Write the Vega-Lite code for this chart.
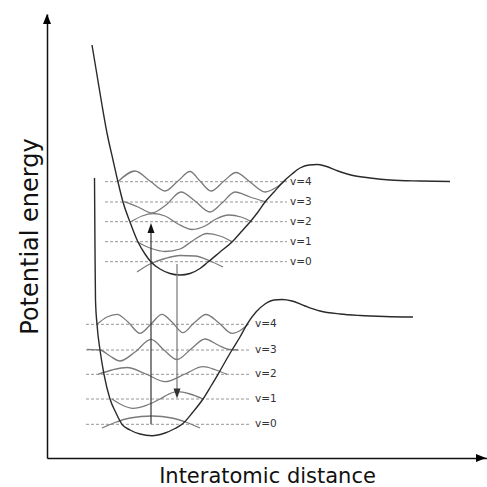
{
  "$schema": "https://vega.github.io/schema/vega-lite/v6.json",
  "width": 440,
  "height": 444,
  "autosize": "none",
  "padding": {"left": 47, "top": 14, "right": 0, "bottom": 29},
  "background": "white",
  "config": {
    "view": {"stroke": null},
    "axis": {
      "domainColor": "#111111",
      "domainWidth": 1.5,
      "ticks": false,
      "labels": false,
      "grid": false,
      "titleFont": "DejaVu Sans",
      "titleFontWeight": "normal",
      "titleColor": "#111111"
    }
  },
  "datasets": {
    "curves": [
      {"c": "upper", "x": 92, "E": 413}, {"c": "upper", "x": 97, "E": 383}, {"c": "upper", "x": 102, "E": 353},
      {"c": "upper", "x": 107, "E": 325}, {"c": "upper", "x": 113, "E": 298}, {"c": "upper", "x": 118, "E": 276},
      {"c": "upper", "x": 123, "E": 256}, {"c": "upper", "x": 130, "E": 236}, {"c": "upper", "x": 138, "E": 216},
      {"c": "upper", "x": 145, "E": 204}, {"c": "upper", "x": 151, "E": 196}, {"c": "upper", "x": 160, "E": 189},
      {"c": "upper", "x": 170, "E": 184.5}, {"c": "upper", "x": 180, "E": 183}, {"c": "upper", "x": 190, "E": 184.5},
      {"c": "upper", "x": 200, "E": 189.5}, {"c": "upper", "x": 208, "E": 196}, {"c": "upper", "x": 220, "E": 206},
      {"c": "upper", "x": 232, "E": 216}, {"c": "upper", "x": 241, "E": 226}, {"c": "upper", "x": 250, "E": 236},
      {"c": "upper", "x": 258, "E": 246}, {"c": "upper", "x": 265, "E": 256}, {"c": "upper", "x": 274, "E": 266},
      {"c": "upper", "x": 283, "E": 276}, {"c": "upper", "x": 292, "E": 284}, {"c": "upper", "x": 300, "E": 290},
      {"c": "upper", "x": 309, "E": 293}, {"c": "upper", "x": 317, "E": 293.5}, {"c": "upper", "x": 325, "E": 292},
      {"c": "upper", "x": 338, "E": 287}, {"c": "upper", "x": 353, "E": 282.5}, {"c": "upper", "x": 370, "E": 280},
      {"c": "upper", "x": 390, "E": 278}, {"c": "upper", "x": 420, "E": 277}, {"c": "upper", "x": 450, "E": 276.5},
      {"c": "lower", "x": 94.5, "E": 280}, {"c": "lower", "x": 95, "E": 208}, {"c": "lower", "x": 95.5, "E": 158},
      {"c": "lower", "x": 97, "E": 133.7}, {"c": "lower", "x": 100, "E": 108}, {"c": "lower", "x": 104, "E": 83.7},
      {"c": "lower", "x": 110, "E": 59}, {"c": "lower", "x": 116, "E": 45}, {"c": "lower", "x": 122, "E": 33.7},
      {"c": "lower", "x": 130, "E": 28}, {"c": "lower", "x": 140, "E": 24}, {"c": "lower", "x": 152, "E": 22.3},
      {"c": "lower", "x": 165, "E": 25}, {"c": "lower", "x": 175, "E": 29.5}, {"c": "lower", "x": 182, "E": 33.7},
      {"c": "lower", "x": 193, "E": 46}, {"c": "lower", "x": 203, "E": 59}, {"c": "lower", "x": 211, "E": 72},
      {"c": "lower", "x": 218, "E": 83.7}, {"c": "lower", "x": 225, "E": 96}, {"c": "lower", "x": 232, "E": 108},
      {"c": "lower", "x": 240, "E": 121}, {"c": "lower", "x": 247, "E": 133.7}, {"c": "lower", "x": 256, "E": 146},
      {"c": "lower", "x": 265, "E": 154}, {"c": "lower", "x": 274, "E": 158}, {"c": "lower", "x": 282, "E": 158.5},
      {"c": "lower", "x": 292, "E": 157}, {"c": "lower", "x": 305, "E": 152}, {"c": "lower", "x": 320, "E": 147},
      {"c": "lower", "x": 340, "E": 144}, {"c": "lower", "x": 360, "E": 142.5}, {"c": "lower", "x": 385, "E": 141.5},
      {"c": "lower", "x": 413, "E": 141}
    ],
    "waves": [
      {"w": "u4", "x": 118, "E": 276.3}, {"w": "u4", "x": 135, "E": 287}, {"w": "u4", "x": 150, "E": 277},
      {"w": "u4", "x": 165, "E": 267}, {"w": "u4", "x": 178, "E": 277}, {"w": "u4", "x": 190, "E": 286.5},
      {"w": "u4", "x": 200, "E": 277}, {"w": "u4", "x": 211, "E": 267}, {"w": "u4", "x": 224, "E": 277},
      {"w": "u4", "x": 236, "E": 285.5}, {"w": "u4", "x": 250, "E": 276}, {"w": "u4", "x": 265, "E": 266},
      {"w": "u4", "x": 277, "E": 271}, {"w": "u4", "x": 286, "E": 278},
      {"w": "u3", "x": 124, "E": 256.3}, {"w": "u3", "x": 138, "E": 251}, {"w": "u3", "x": 152, "E": 245},
      {"w": "u3", "x": 166, "E": 253}, {"w": "u3", "x": 181, "E": 266}, {"w": "u3", "x": 195, "E": 257},
      {"w": "u3", "x": 210, "E": 246}, {"w": "u3", "x": 222, "E": 255}, {"w": "u3", "x": 235, "E": 266},
      {"w": "u3", "x": 250, "E": 261}, {"w": "u3", "x": 266, "E": 256},
      {"w": "u2", "x": 131, "E": 236.3}, {"w": "u2", "x": 142, "E": 242}, {"w": "u2", "x": 153, "E": 244.5},
      {"w": "u2", "x": 165, "E": 242}, {"w": "u2", "x": 178, "E": 234}, {"w": "u2", "x": 192, "E": 228.5},
      {"w": "u2", "x": 205, "E": 232}, {"w": "u2", "x": 216, "E": 239}, {"w": "u2", "x": 229, "E": 243},
      {"w": "u2", "x": 241, "E": 241}, {"w": "u2", "x": 252, "E": 236},
      {"w": "u1", "x": 137, "E": 216.3}, {"w": "u1", "x": 150, "E": 210}, {"w": "u1", "x": 165, "E": 206.5},
      {"w": "u1", "x": 180, "E": 209}, {"w": "u1", "x": 193, "E": 217.5}, {"w": "u1", "x": 207, "E": 224.5},
      {"w": "u1", "x": 220, "E": 222}, {"w": "u1", "x": 232, "E": 216.3},
      {"w": "u0", "x": 137, "E": 186}, {"w": "u0", "x": 150, "E": 194}, {"w": "u0", "x": 165, "E": 199.5},
      {"w": "u0", "x": 180, "E": 202.5}, {"w": "u0", "x": 195, "E": 202}, {"w": "u0", "x": 210, "E": 197},
      {"w": "u0", "x": 223, "E": 191},
      {"w": "l4", "x": 97, "E": 133.7}, {"w": "l4", "x": 107, "E": 141}, {"w": "l4", "x": 117, "E": 143.7},
      {"w": "l4", "x": 128, "E": 136}, {"w": "l4", "x": 140, "E": 124.7}, {"w": "l4", "x": 151, "E": 134},
      {"w": "l4", "x": 162, "E": 143.7}, {"w": "l4", "x": 172, "E": 136}, {"w": "l4", "x": 183, "E": 125.3},
      {"w": "l4", "x": 194, "E": 135}, {"w": "l4", "x": 206, "E": 143.5}, {"w": "l4", "x": 219, "E": 135},
      {"w": "l4", "x": 232, "E": 124.7}, {"w": "l4", "x": 241, "E": 128}, {"w": "l4", "x": 248, "E": 133.7},
      {"w": "l3", "x": 87, "E": 108.7}, {"w": "l3", "x": 100, "E": 108}, {"w": "l3", "x": 110, "E": 102},
      {"w": "l3", "x": 120, "E": 97}, {"w": "l3", "x": 135, "E": 106}, {"w": "l3", "x": 151, "E": 118.7},
      {"w": "l3", "x": 164, "E": 108}, {"w": "l3", "x": 177, "E": 98.5}, {"w": "l3", "x": 191, "E": 109},
      {"w": "l3", "x": 205, "E": 119}, {"w": "l3", "x": 218, "E": 113}, {"w": "l3", "x": 229, "E": 108.5},
      {"w": "l3", "x": 238, "E": 108},
      {"w": "l2", "x": 98, "E": 83.7}, {"w": "l2", "x": 112, "E": 88}, {"w": "l2", "x": 127, "E": 90.5},
      {"w": "l2", "x": 146, "E": 84}, {"w": "l2", "x": 165, "E": 76.3}, {"w": "l2", "x": 185, "E": 84},
      {"w": "l2", "x": 203, "E": 91.3}, {"w": "l2", "x": 216, "E": 88}, {"w": "l2", "x": 227, "E": 83.7},
      {"w": "l1", "x": 112, "E": 59}, {"w": "l1", "x": 122, "E": 53}, {"w": "l1", "x": 133, "E": 49.7},
      {"w": "l1", "x": 147, "E": 53}, {"w": "l1", "x": 160, "E": 59}, {"w": "l1", "x": 168, "E": 63.5},
      {"w": "l1", "x": 177, "E": 66.3}, {"w": "l1", "x": 190, "E": 64}, {"w": "l1", "x": 203, "E": 59},
      {"w": "l0", "x": 102, "E": 30}, {"w": "l0", "x": 115, "E": 35.5}, {"w": "l0", "x": 130, "E": 40},
      {"w": "l0", "x": 152, "E": 42}, {"w": "l0", "x": 172, "E": 40}, {"w": "l0", "x": 187, "E": 35.5},
      {"w": "l0", "x": 200, "E": 30}
    ],
    "levels": [
      {"lvl": "v=4", "state": "upper", "x1": 105, "x2": 287, "E": 276.3, "lx": 290},
      {"lvl": "v=3", "state": "upper", "x1": 105, "x2": 287, "E": 256, "lx": 290},
      {"lvl": "v=2", "state": "upper", "x1": 105, "x2": 287, "E": 236.3, "lx": 290},
      {"lvl": "v=1", "state": "upper", "x1": 105, "x2": 287, "E": 216.3, "lx": 290},
      {"lvl": "v=0", "state": "upper", "x1": 105, "x2": 287, "E": 196.3, "lx": 290},
      {"lvl": "v=4", "state": "lower", "x1": 86, "x2": 251, "E": 133.7, "lx": 255},
      {"lvl": "v=3", "state": "lower", "x1": 86, "x2": 251, "E": 108, "lx": 255},
      {"lvl": "v=2", "state": "lower", "x1": 86, "x2": 251, "E": 83.7, "lx": 255},
      {"lvl": "v=1", "state": "lower", "x1": 86, "x2": 251, "E": 59, "lx": 255},
      {"lvl": "v=0", "state": "lower", "x1": 86, "x2": 251, "E": 33.7, "lx": 255}
    ],
    "arrows": [
      {"a": "absorption", "x": 151, "E1": 33.7, "E2": 227},
      {"a": "emission", "x": 177, "E1": 194, "E2": 67}
    ],
    "upHeads": [{"x": 151, "E": 235}],
    "downHeads": [{"x": 177, "E": 59.5}],
    "yAxisHead": [{"x": 47, "E": 444}],
    "xAxisHead": [{"x": 486, "E": 0}]
  },
  "layer": [
    {
      "data": {"name": "levels"},
      "mark": {"type": "rule", "color": "#8a8a8a", "strokeWidth": 0.9, "strokeDash": [3, 2]},
      "encoding": {
        "x": {"field": "x1", "type": "quantitative", "scale": {"domain": [47, 487], "nice": false, "zero": false}, "axis": {"title": "Interatomic distance", "titleFontSize": 21, "titlePadding": 7}},
        "x2": {"field": "x2"},
        "y": {"field": "E", "type": "quantitative", "scale": {"domain": [0, 444], "nice": false, "zero": false}, "axis": {"title": "Potential energy", "titleFontSize": 24, "titlePadding": 5}}
      }
    },
    {
      "data": {"name": "waves"},
      "mark": {"type": "line", "interpolate": "monotone", "color": "#7a7a7a", "strokeWidth": 1.3},
      "encoding": {
        "x": {"field": "x", "type": "quantitative"},
        "y": {"field": "E", "type": "quantitative"},
        "detail": {"field": "w"}
      }
    },
    {
      "data": {"name": "curves"},
      "mark": {"type": "line", "interpolate": "monotone", "color": "#2a2a2a", "strokeWidth": 1.4},
      "encoding": {
        "x": {"field": "x", "type": "quantitative"},
        "y": {"field": "E", "type": "quantitative"},
        "detail": {"field": "c"}
      }
    },
    {
      "data": {"name": "arrows"},
      "mark": {"type": "rule", "strokeWidth": 1.2},
      "encoding": {
        "x": {"field": "x", "type": "quantitative"},
        "y": {"field": "E1", "type": "quantitative"},
        "y2": {"field": "E2"},
        "color": {"field": "a", "type": "nominal", "scale": {"domain": ["absorption", "emission"], "range": ["#333333", "#777777"]}, "legend": null}
      }
    },
    {
      "data": {"name": "upHeads"},
      "mark": {"type": "point", "shape": "M0,0L-0.7,2L0.7,2Z", "size": 100, "filled": true, "opacity": 1, "color": "#111111", "strokeWidth": 0},
      "encoding": {"x": {"field": "x", "type": "quantitative"}, "y": {"field": "E", "type": "quantitative"}}
    },
    {
      "data": {"name": "downHeads"},
      "mark": {"type": "point", "shape": "M0,0L-0.7,-2L0.7,-2Z", "size": 100, "filled": true, "opacity": 1, "color": "#333333", "strokeWidth": 0},
      "encoding": {"x": {"field": "x", "type": "quantitative"}, "y": {"field": "E", "type": "quantitative"}}
    },
    {
      "data": {"name": "yAxisHead"},
      "mark": {"type": "point", "shape": "M0,0L-0.8,2L0.8,2Z", "size": 100, "filled": true, "opacity": 1, "color": "#000000", "strokeWidth": 0},
      "encoding": {"x": {"field": "x", "type": "quantitative"}, "y": {"field": "E", "type": "quantitative"}}
    },
    {
      "data": {"name": "xAxisHead"},
      "mark": {"type": "point", "shape": "M0,0L-2,-0.8L-2,0.8Z", "size": 100, "filled": true, "opacity": 1, "color": "#000000", "strokeWidth": 0},
      "encoding": {"x": {"field": "x", "type": "quantitative"}, "y": {"field": "E", "type": "quantitative"}}
    },
    {
      "data": {"name": "levels"},
      "mark": {"type": "text", "align": "left", "baseline": "middle", "font": "DejaVu Sans", "fontSize": 10.5, "color": "#333333"},
      "encoding": {
        "x": {"field": "lx", "type": "quantitative"},
        "y": {"field": "E", "type": "quantitative"},
        "text": {"field": "lvl"}
      }
    }
  ]
}
